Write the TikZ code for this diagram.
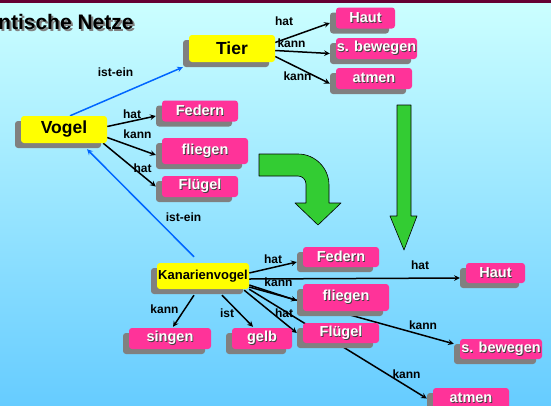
\documentclass[tikz,border=0pt]{standalone}
\usepackage{fontspec}
\setmainfont{Liberation Sans}
\usetikzlibrary{shadows}
\definecolor{bgtop}{HTML}{CCFFFF}
\definecolor{bgbottom}{HTML}{66CCFF}
\definecolor{rand}{HTML}{660033}
\definecolor{vyellow}{HTML}{FFFF00}
\definecolor{vpink}{HTML}{FF3399}
\definecolor{schatten}{HTML}{808080}
\definecolor{vblue}{HTML}{0066FF}
\definecolor{vgreen}{HTML}{33CC33}
\pgfdeclarelayer{bg}\pgfdeclarelayer{edges}
\pgfsetlayers{bg,edges,main}
\newcommand{\wtxt}[1]{\makebox[0pt][l]{\kern0.9pt\raisebox{-0.9pt}{\color{black!75}#1}}#1}
\newcommand{\titeltxt}[1]{\makebox[0pt][l]{\kern2pt\raisebox{-2pt}{\color{gray}#1}}#1}
\tikzset{
  box/.style={rounded corners=3pt, inner sep=0pt,
    drop shadow={shadow xshift=-6pt, shadow yshift=-5pt, fill=schatten, opacity=1}},
  begriff/.style={box, fill=vyellow, minimum width=86pt, minimum height=27pt,
    font=\fontsize{17.5}{20}\selectfont\bfseries},
  merkmal/.style={box, fill=vpink, text=white, minimum width=76pt, minimum height=21pt,
    font=\fontsize{14.5}{16}\selectfont\bfseries},
  rel/.style={->, line width=1.5pt},
  isa/.style={->, line width=1.5pt, draw=vblue},
  lbl/.style={inner sep=0pt, font=\fontsize{12}{14}\selectfont\bfseries},
  pfeil/.style={fill=vgreen, draw=black, line width=0.6pt},
}
\begin{document}
\begin{tikzpicture}[x=1pt, y=-1pt, >=stealth, line join=round]
  \useasboundingbox (0,0) rectangle (551,405);
  \clip (0,0) rectangle (551,405);
  \begin{pgfonlayer}{bg}
    \shade[top color=bgtop, bottom color=bgbottom] (0,0) rectangle (551,405);
    \fill[rand] (0,0) rectangle (551,3);
  \end{pgfonlayer}

  % title
  \node[anchor=base west, inner sep=0pt, font=\fontsize{21}{24}\selectfont\bfseries]
    (titel) at (-2,29) {\titeltxt{ntische Netze}};

  % Tier
  \node[begriff] (tier) at (232,48.5) {Tier};
  \node[merkmal, minimum width=59pt] (hautA) at (365.5,18) {\wtxt{Haut}};
  \node[merkmal, minimum width=81pt] (bewegenA) at (376.5,48.5) {\wtxt{s. bewegen}};
  \node[merkmal] (atmenA) at (374,78.5) {\wtxt{atmen}};

  % Vogel
  \node[begriff] (vogel) at (64,129.5) {Vogel};
  \node[merkmal] (federnB) at (200,111) {\wtxt{Federn}};
  \node[merkmal, minimum width=86pt, minimum height=26pt] (fliegenB) at (205,151) {\wtxt{fliegen}};
  \node[merkmal] (fluegelB) at (200,186.5) {\wtxt{Flügel}};

  % Kanarienvogel
  \node[box, fill=vyellow, minimum width=92pt, minimum height=26pt,
    font=\fontsize{13}{15}\selectfont\bfseries] (kanarien) at (203,276) {Kanarienvogel};
  \node[merkmal, minimum height=20pt] (federnC) at (341,257) {\wtxt{Federn}};
  \node[merkmal, minimum width=86pt, minimum height=27pt] (fliegenC) at (346,297.5) {\wtxt{fliegen}};
  \node[merkmal, minimum height=20pt] (fluegelC) at (341,333) {\wtxt{Flügel}};
  \node[merkmal, minimum width=82pt] (singen) at (170,338.5) {\wtxt{singen}};
  \node[merkmal, minimum width=60pt] (gelb) at (262,338.5) {\wtxt{gelb}};
  \node[merkmal, minimum width=59pt, minimum height=20pt] (hautC) at (495.5,273) {\wtxt{Haut}};
  \node[merkmal, minimum width=82pt, minimum height=20pt] (bewegenC) at (501,349) {\wtxt{s. bewegen}};
  \node[merkmal] (atmenC) at (471,398.5) {\wtxt{atmen}};

  \begin{pgfonlayer}{edges}
    \draw[rel] ([shift={(0,-6)}]tier.east) -- ([shift={(-6,5)}]hautA.west);
    \draw[rel] ([shift={(0,2)}]tier.east) -- ([shift={(-6,5)}]bewegenA.west);
    \draw[rel] ([shift={(0,8)}]tier.east) -- ([shift={(-6,5)}]atmenA.west);
    \draw[rel] ([shift={(0,-3)}]vogel.east) -- ([shift={(-6,5)}]federnB.west);
    \draw[rel] ([shift={(0,8)}]vogel.east) -- ([shift={(-6,4)}]fliegenB.west);
    \draw[rel] ([shift={(-4,0)}]vogel.south east) -- ([shift={(-6,0)}]fluegelB.west);
    \draw[isa] ([shift={(6,0)}]vogel.north) -- ([shift={(-6,5)}]tier.south west);
    \draw[isa] ([shift={(-9,-6)}]kanarien.north) -- ([shift={(23,6)}]vogel.south);
    \draw[rel] ([shift={(0,-3)}]kanarien.east) -- ([shift={(-6,5)}]federnC.west);
    \draw[rel] ([shift={(0,3)}]kanarien.east) -- ([shift={(-6,5)}]hautC.west);
    \draw[rel] ([shift={(0,9)}]kanarien.east) -- ([shift={(-6,3)}]fliegenC.west);
    \draw[rel] ([shift={(-5,1)}]kanarien.south east) -- ([shift={(-6,0)}]fluegelC.west);
    \draw[rel] ([shift={(0,11)}]kanarien.east) -- ([shift={(-6,5)}]bewegenC.north west);
    \draw[rel] (kanarien.south east) -- ([shift={(-6,0)}]atmenC.west);
    \draw[rel] ([shift={(-9,6)}]kanarien.south) -- ([shift={(3,-1)}]singen.north);
    \draw[rel] ([shift={(19,6)}]kanarien.south) -- ([shift={(-9,-1)}]gelb.north);
  \end{pgfonlayer}

  % labels
  \node[lbl] (l1) at (284,21.5) {hat};
  \node[lbl] (l2) at (291.5,43) {kann};
  \node[lbl] (l3) at (297.5,76) {kann};
  \node[lbl] (l4) at (115.5,72) {ist-ein};
  \node[lbl] (l5) at (132,114) {hat};
  \node[lbl] (l6) at (137.5,134) {kann};
  \node[lbl] (l7) at (142.5,168) {hat};
  \node[lbl] (l8) at (183.5,217) {ist-ein};
  \node[lbl] (l9) at (273,259) {hat};
  \node[lbl] (l10) at (278.5,282) {kann};
  \node[lbl] (l11) at (284,313) {hat};
  \node[lbl] (l12) at (164.5,309) {kann};
  \node[lbl] (l13) at (227,313) {ist};
  \node[lbl] (l14) at (420,265) {hat};
  \node[lbl] (l15) at (423,325) {kann};
  \node[lbl] (l16) at (406.5,374) {kann};

  % green arrows
  \draw[pfeil] (259,154) -- (298,154) .. controls (315,154) and (329,168) .. (329,185)
    -- (329,203) -- (341,203) -- (318,225) -- (295,203) -- (306,203) -- (306,184)
    .. controls (306,179.6) and (302.4,176) .. (298,176) -- (259,176) -- cycle;
  \draw[pfeil] (397,105) -- (411,105) -- (411,216) -- (417,216) -- (404,250)
    -- (390,216) -- (397,216) -- cycle;
\end{tikzpicture}
\end{document}
